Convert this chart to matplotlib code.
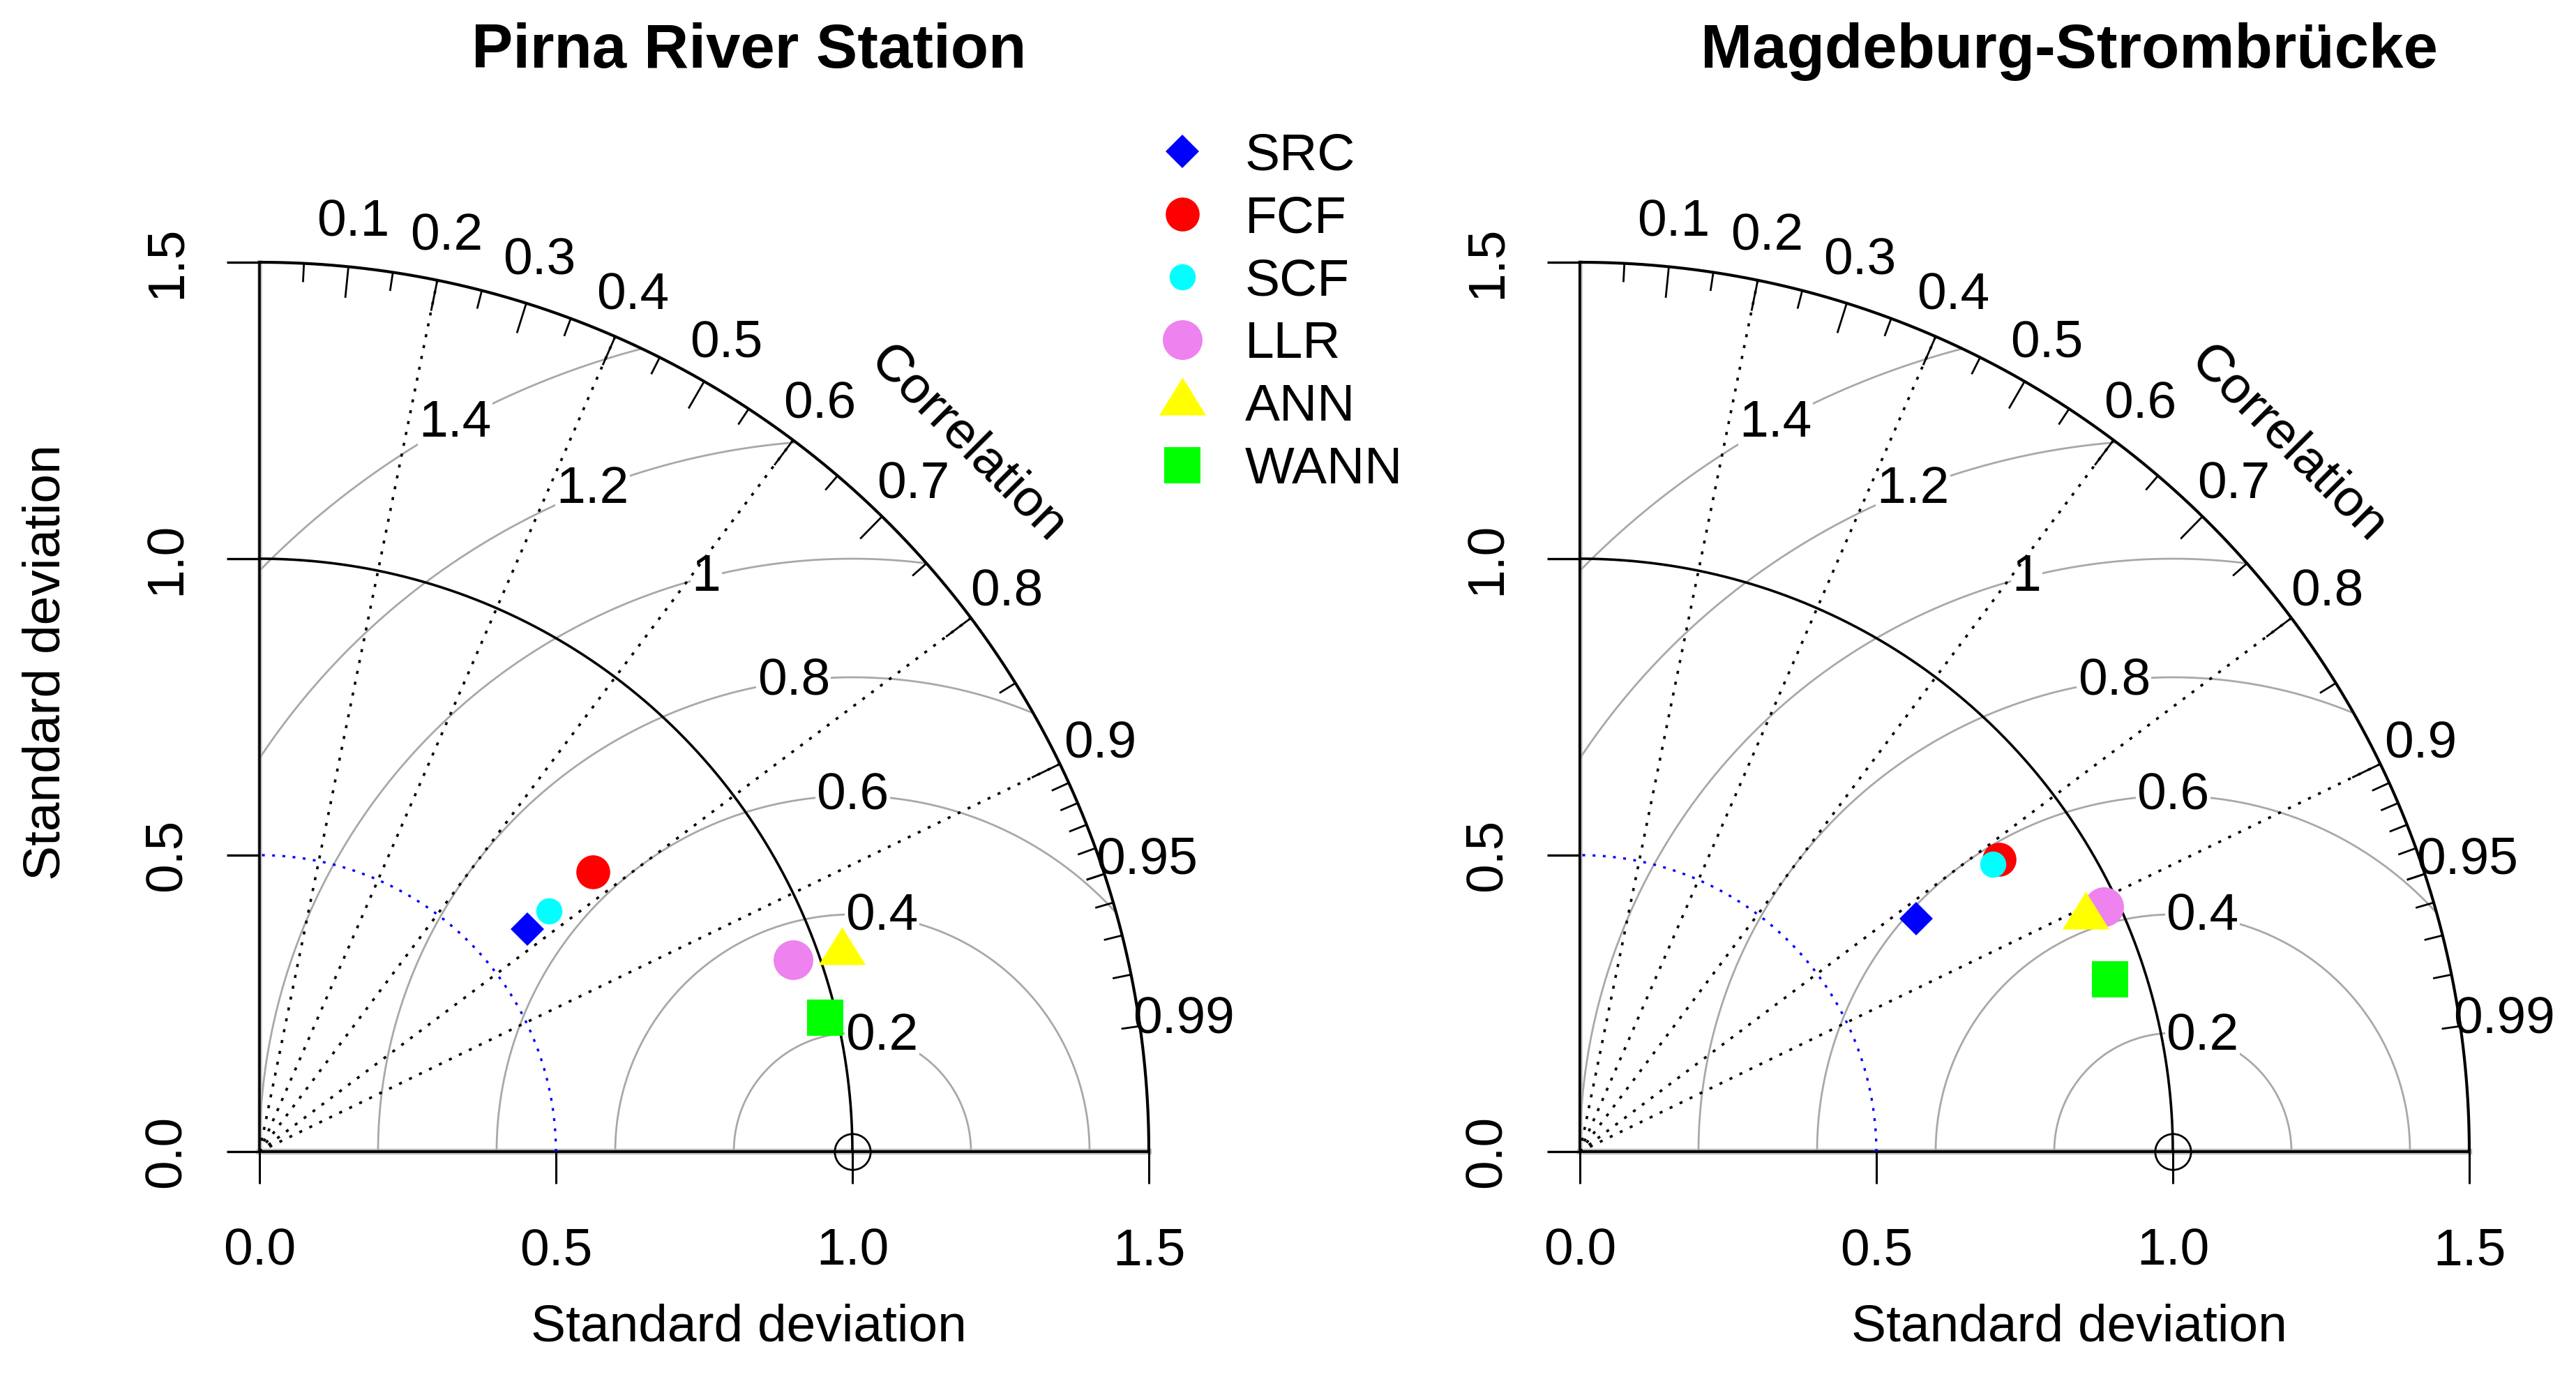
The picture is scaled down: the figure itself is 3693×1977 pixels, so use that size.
import numpy as np
import matplotlib
matplotlib.use('Agg')
from matplotlib import pyplot as plt
from matplotlib.path import Path

plt.rcParams['font.family'] = ['Liberation Sans', 'DejaVu Sans']

# data (normalised std dev, correlation)
models = ['SRC', 'FCF', 'SCF', 'LLR', 'ANN', 'WANN']
colors = ['#0000FF', '#FF0000', '#00FFFF', '#EE82EE', '#FFFF00', '#00FF00']

stations = ['Pirna River Station', 'Magdeburg-Strombrücke']
pirna_sd = [0.588, 0.734, 0.635, 0.956, 1.039, 0.980]
pirna_cor = [0.769, 0.766, 0.769, 0.941, 0.946, 0.973]
magde_sd = [0.690, 0.862, 0.849, 0.975, 0.941, 0.940]
magde_cor = [0.822, 0.820, 0.821, 0.906, 0.907, 0.951]

sd_ticks = [0.0, 0.5, 1.0, 1.5]
sd_ticklabels = ['0.0', '0.5', '1.0', '1.5']
cor_labels = [0.1, 0.2, 0.3, 0.4, 0.5, 0.6, 0.7, 0.8, 0.9, 0.95, 0.99]
cor_lines = [0.2, 0.4, 0.6, 0.8, 0.9]
gammas = [0.2, 0.4, 0.6, 0.8, 1.0, 1.2, 1.4]

tri = Path([(-1, -0.537), (1, -0.537), (0, 1.075), (-1, -0.537)])
marks = ['D', 'o', 'o', 'o', tri, 's']
msizes = [24, 35, 27, 41, 52, 37.5]

FS = 54
maxsd = 1.5
W, H = 3693, 1977
fig = plt.figure(figsize=(W / 100, H / 100), dpi=100)


def panel(x0px, title, sds, cors, legend=False, ylabel=False):
    ax = fig.add_axes([x0px / W, 326 / H, 1275 / W, 1275 / H])
    ax.set_xlim(0, maxsd)
    ax.set_ylim(0, maxsd)
    for s in ['top', 'right']:
        ax.spines[s].set_visible(False)
    ax.spines['left'].set_linewidth(2.6)
    ax.spines['bottom'].set_linewidth(2.8)
    ax.set_xticks(sd_ticks, sd_ticklabels, fontsize=FS)
    ax.set_yticks(sd_ticks, sd_ticklabels, fontsize=FS, rotation=90, va='center')
    ax.tick_params(axis='x', length=33, width=2.2, pad=45)
    ax.tick_params(axis='y', length=34, width=2.4, pad=37)

    t = np.linspace(0, np.pi / 2, 400)
    ax.plot([0, maxsd], [0, 0], color='#BBBBBB', lw=6, zorder=1, clip_on=False)
    ax.plot([0, 0], [0, maxsd], color='#C8C8C8', lw=5, zorder=1, clip_on=False)

    # rms difference arcs around the reference point
    tt = np.linspace(0, np.pi, 1200)
    for k, g in enumerate(gammas):
        xs = 1 + g * np.cos(tt)
        ys = g * np.sin(tt)
        keep = (xs >= 0) & (xs ** 2 + ys ** 2 <= maxsd ** 2)
        ax.plot(np.where(keep, xs, np.nan), ys, color='#A8A8A8', lw=2.0,
                zorder=2, clip_on=False)
        a = (44 + k * 25 / 6) * 0.03
        lab = '1' if g == 1.0 else f'{g:.1f}'
        ax.text(1 + g * np.cos(a), g * np.sin(a), lab, fontsize=FS,
                ha='center', va='center', zorder=3,
                bbox=dict(facecolor='white', edgecolor='none', pad=1))

    # correlation rays
    for c in cor_lines:
        ax.plot([0, maxsd * c], [0, maxsd * np.sqrt(1 - c ** 2)], color='black',
                lw=2.6, dashes=(1.2, 3.2), zorder=4, clip_on=False)

    ax.plot(np.cos(t), np.sin(t), color='black', lw=2.6, zorder=4, clip_on=False)
    ax.plot(0.5 * np.cos(t), 0.5 * np.sin(t), color='blue', lw=2.4,
            dashes=(1.2, 3.2), zorder=4, clip_on=False)
    ax.plot(maxsd * np.cos(t), maxsd * np.sin(t), color='black', lw=3.0,
            zorder=4, clip_on=False)

    # ticks on the correlation arc
    major = np.arange(0.1, 0.95, 0.1)
    minor = np.concatenate([np.arange(0.05, 0.96, 0.1), np.arange(0.91, 0.995, 0.01)])
    for vals, inner in [(major, 0.966), (minor, 0.98)]:
        for c in vals:
            s = np.sqrt(1 - c ** 2)
            ax.plot([inner * maxsd * c, maxsd * c], [inner * maxsd * s, maxsd * s],
                    color='black', lw=2.0, zorder=4, clip_on=False)
    for c in cor_labels:
        a = np.arccos(c)
        ax.text(1.05 * maxsd * np.cos(a), 1.05 * maxsd * np.sin(a), f'{c:g}',
                fontsize=FS, ha='center', va='center')
    ax.text(1.194, 1.194, 'Correlation', fontsize=FS, rotation=-45,
            ha='center', va='center')

    # reference point
    ax.plot([1.0], [0.0], 'o', ms=37, mfc='none', mec='black', mew=2.0,
            zorder=5, clip_on=False)

    handles = []
    for m, sd, c, col, mk, ms in zip(models, sds, cors, colors, marks, msizes):
        h, = ax.plot(sd * c, sd * np.sqrt(1 - c ** 2), linestyle='none',
                     marker=mk, ms=ms, color=col, mew=0, zorder=6,
                     clip_on=False, label=m)
        handles.append(h)

    ax.text(0.825, 1.855, title, fontsize=64, fontweight='bold',
            ha='center', va='center')
    ax.text(0.825, -0.296, 'Standard deviation', fontsize=FS,
            ha='center', va='center')
    if ylabel:
        ax.text(-0.36, 0.825, 'Standard deviation', fontsize=FS, rotation=90,
                ha='center', va='center')

    if legend:
        ax.legend(handles=handles, loc='upper left', bbox_to_anchor=(1.512, 1.72),
                  bbox_transform=ax.transData, frameon=False, fontsize=FS,
                  handlelength=1.0, handletextpad=0.7, labelspacing=0.28,
                  borderpad=0, borderaxespad=0, numpoints=1)
    return ax


panel(372, stations[0], pirna_sd, pirna_cor, legend=True, ylabel=True)
panel(2265, stations[1], magde_sd, magde_cor)

fig.savefig('out.png', dpi=100)
